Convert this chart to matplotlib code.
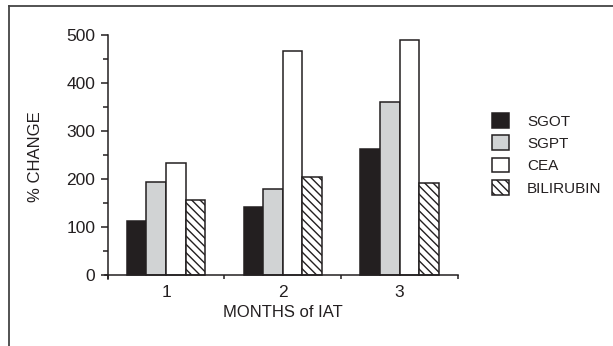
import numpy as np
import matplotlib
matplotlib.use("Agg")
import matplotlib.pyplot as plt
from matplotlib.patches import Patch
from matplotlib.ticker import MultipleLocator, FixedLocator, NullFormatter

plt.rcParams['font.family'] = ['Liberation Sans', 'DejaVu Sans']
plt.rcParams['hatch.linewidth'] = 1.0

ink = '#231f20'

months = ['1', '2', '3']
series = ['SGOT', 'SGPT', 'CEA', 'BILIRUBIN']
sgot = [113, 141, 263]
sgpt = [194, 179, 361]
cea = [233, 466, 490]
bilirubin = [156, 204, 192]

fig = plt.figure(figsize=(6.13, 3.46), dpi=100)
# axes from y=279px (just below the baseline) up to y=35px
ax = fig.add_axes([0.1757, 1 - 279 / 346, 0.5713, 244 / 346])

x = np.arange(1, len(months) + 1)
w = 0.168

styles = [
    dict(color=ink),
    dict(color='#d1d3d4'),
    dict(color='white'),
    dict(color='white', hatch='\\\\\\\\'),
]
values = [sgot, sgpt, cea, bilirubin]
handles = []
for i, (vals, st) in enumerate(zip(values, styles)):
    ax.bar(x + (i - 1.5) * w, vals, w, edgecolor=ink, linewidth=1.1, **st)
    handles.append(Patch(facecolor=st['color'], edgecolor=ink, linewidth=1.1,
                         hatch=st.get('hatch'), label=series[i]))

ax.set_xlim(0.5, 3.5)
ax.set_ylim(-8.3, 500)
ax.set_yticks(np.arange(0, 501, 100))
ax.set_yticks(np.arange(50, 500, 100), minor=True)
ax.xaxis.set_major_locator(FixedLocator([0.5, 1.5, 2.5, 3.5]))
ax.xaxis.set_major_formatter(NullFormatter())
ax.xaxis.set_minor_locator(FixedLocator(x))
ax.xaxis.set_minor_formatter(matplotlib.ticker.FixedFormatter(months))

for s in ['top', 'right']:
    ax.spines[s].set_visible(False)
for s in ['left', 'bottom']:
    ax.spines[s].set_color(ink)
    ax.spines[s].set_linewidth(1.1)
ax.spines['bottom'].set_position(('data', 0))
ax.spines['bottom'].set_bounds(0.5 - 0.025, 3.5)

ax.tick_params(axis='y', which='major', direction='out', length=5, width=1.1,
               color=ink, labelcolor=ink, labelsize=12.5, pad=4)
ax.tick_params(axis='y', which='minor', direction='out', length=3.6, width=1.1, color=ink)
ax.tick_params(axis='x', which='major', direction='out', length=3, width=1.1, color=ink)
ax.tick_params(axis='x', which='minor', length=0, labelcolor=ink, labelsize=12.5, pad=7)

ax.set_xlabel('MONTHS of IAT', fontsize=12, color=ink, labelpad=4)
ax.set_ylabel('% CHANGE', fontsize=12, color=ink, labelpad=17)

fig.legend(handles=handles, loc='upper left', bbox_to_anchor=(492 / 613, 1 - 113 / 346),
           frameon=False, fontsize=11, handlelength=1.1, handleheight=1.1,
           labelspacing=0.45, handletextpad=1.2, borderpad=0, borderaxespad=0,
           labelcolor=ink)

# figure frame: top and left lines only
fig.add_artist(plt.Line2D([9 / 613, 1], [1 - 5.5 / 346] * 2, color='#444444',
                          linewidth=1.3, transform=fig.transFigure))
fig.add_artist(plt.Line2D([9 / 613] * 2, [0, 1 - 5.5 / 346], color='#444444',
                          linewidth=1.3, transform=fig.transFigure))

fig.savefig('out.png', dpi=100)
